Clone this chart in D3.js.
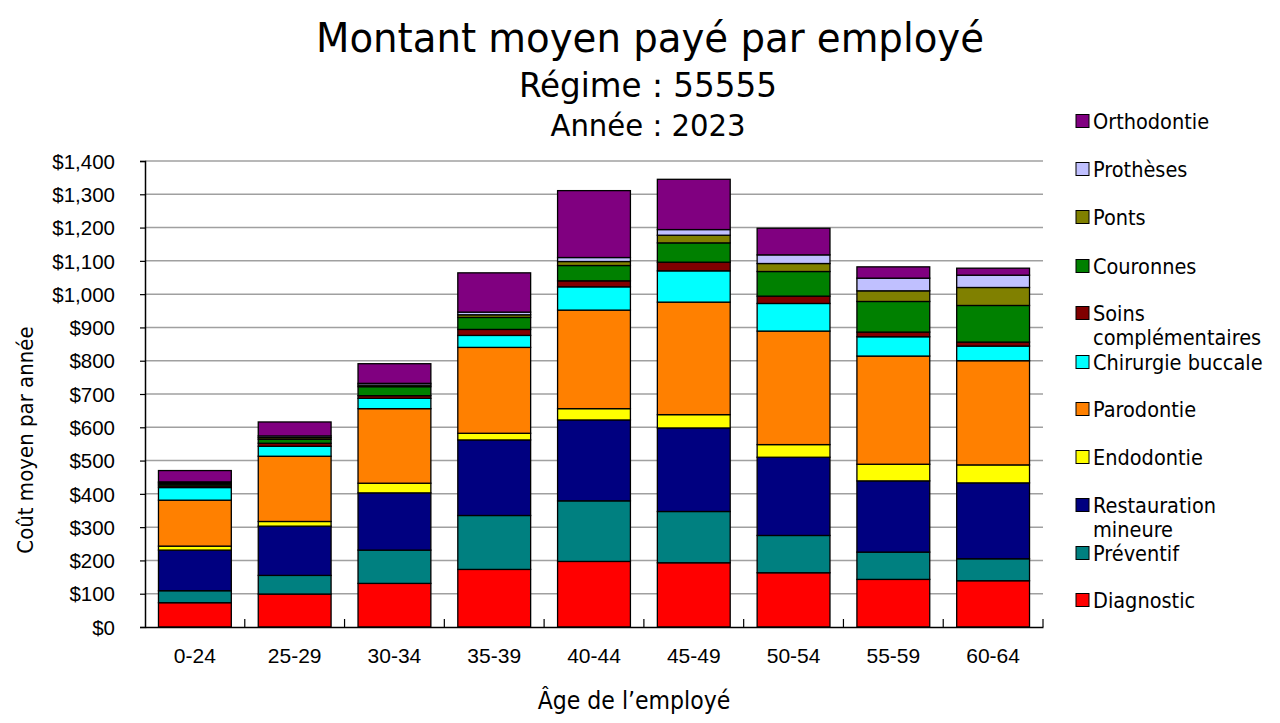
<!DOCTYPE html>
<html><head><meta charset="utf-8">
<script src="https://cdn.jsdelivr.net/npm/d3@7"></script>
<style>
html,body{margin:0;padding:0;background:#fff;}
svg{display:block;font-family:"DejaVu Sans Condensed","DejaVu Sans",sans-serif;}
</style></head>
<body>
<svg id="chart" width="1280" height="723"></svg>
<script>
const ages = ["0-24","25-29","30-34","35-39","40-44","45-49","50-54","55-59","60-64"];
const seriesNames = ["Diagnostic","Préventif","Restauration mineure","Endodontie","Parodontie","Chirurgie buccale","Soins complémentaires","Couronnes","Ponts","Prothèses","Orthodontie"];
const diagnostic   = [73, 99, 131, 173, 197, 193, 163, 143, 139];
const preventif    = [36, 56, 100, 162, 182, 154, 112, 82, 66];
const restauration = [122, 148, 172, 227, 243, 251, 235, 214, 228];
const endodontie   = [12, 14, 29, 20, 34, 40, 38, 50, 54];
const parodontie   = [138, 196, 224, 258, 296, 338, 341, 325, 313];
const chirurgie    = [38, 30, 31, 36, 70, 94, 83, 58, 44];
const soins        = [5, 9, 8, 18, 18, 26, 22, 14, 12];
const couronnes    = [5, 12, 27, 36, 46, 58, 74, 92, 110];
const ponts        = [4, 5, 5, 8, 12, 23, 24, 32, 54];
const protheses    = [3, 5, 5, 8, 12, 17, 26, 38, 37];
const orthodontie  = [34, 42, 59, 118, 201, 151, 80, 34, 21];
const yTicks = [0,100,200,300,400,500,600,700,800,900,1000,1100,1200,1300,1400];
const colors = ["#FF0000","#008080","#000080","#FFFF00","#FF8000","#00FFFF","#800000","#008000","#808000","#C0C0FF","#800080"];
const legendLines = [["Orthodontie"],["Prothèses"],["Ponts"],["Couronnes"],["Soins","complémentaires"],["Chirurgie buccale"],["Parodontie"],["Endodontie"],["Restauration","mineure"],["Préventif"],["Diagnostic"]];

const allSeries = [diagnostic,preventif,restauration,endodontie,parodontie,chirurgie,soins,couronnes,ponts,protheses,orthodontie];
const table = ages.map((a,i)=>{const o={age:a}; seriesNames.forEach((n,k)=>o[n]=allSeries[k][i]); return o;});

const svg = d3.select("#chart");
const L=145, R=1043, T=161, B=627;
const x = d3.scaleBand().domain(ages).range([L,R]).paddingInner(0.27).paddingOuter(0.135);
const y = d3.scaleLinear().domain([0,1400]).range([B,T]);
const color = d3.scaleOrdinal().domain(seriesNames).range(colors);

// gridlines
svg.append("g").selectAll("line").data(yTicks.filter(d=>d>0)).join("line")
  .attr("x1",L).attr("x2",R).attr("y1",d=>y(d)).attr("y2",d=>y(d))
  .attr("stroke","#a0a0a0").attr("stroke-width",1.5);

// bars
const stack = d3.stack().keys(seriesNames)(table);
svg.append("g").selectAll("g").data(stack).join("g")
  .attr("fill",d=>color(d.key))
  .selectAll("rect").data(d=>d).join("rect")
  .attr("x",d=>x(d.data.age)).attr("width",x.bandwidth())
  .attr("y",d=>y(d[1])).attr("height",d=>y(d[0])-y(d[1]))
  .attr("stroke","#000").attr("stroke-width",1.3);

// y axis
const yAxis = svg.append("g").attr("transform",`translate(${L},0)`)
  .call(d3.axisLeft(y).tickValues(yTicks).tickSize(5).tickPadding(25).tickFormat(d=>"$"+d3.format(",")(d)));
yAxis.select(".domain").attr("stroke","#000").attr("stroke-width",1.5);
yAxis.selectAll(".tick line").attr("stroke","#000").attr("stroke-width",1.2);
yAxis.selectAll("text").attr("font-size",20.5).attr("fill","#000").attr("font-family","inherit").attr("dy","0.35em");

// x axis
const xAxis = svg.append("g").attr("transform",`translate(0,${B})`)
  .call(d3.axisBottom(x).tickSize(0).tickPadding(21));
xAxis.select(".domain").attr("stroke","#000").attr("stroke-width",1.5);
xAxis.selectAll("text").attr("font-size",21).attr("fill","#000").attr("font-family","inherit");
// category separator ticks (inside)
svg.append("g").selectAll("line").data(d3.range(1,ages.length+1)).join("line")
  .attr("x1",i=>L+i*(R-L)/ages.length).attr("x2",i=>L+i*(R-L)/ages.length)
  .attr("y1",B).attr("y2",B-8).attr("stroke","#000").attr("stroke-width",1.2);

function fit(sel, w){
  const n = sel.node(); const cw = n.getComputedTextLength();
  if (Math.abs(cw-w)/w > 0.02) sel.attr("textLength",w).attr("lengthAdjust","spacingAndGlyphs");
}
// titles
fit(svg.append("text").attr("x",650).attr("y",52).attr("text-anchor","middle").attr("font-size",40).text("Montant moyen payé par employé"),668);
fit(svg.append("text").attr("x",648).attr("y",97).attr("text-anchor","middle").attr("font-size",33).text("Régime : 55555"),258);
fit(svg.append("text").attr("x",648).attr("y",136).attr("text-anchor","middle").attr("font-size",31).text("Année : 2023"),195);

// axis titles
svg.append("text").attr("transform","translate(33,440) rotate(-90)").attr("text-anchor","middle").attr("font-size",22).text("Coût moyen par année");
svg.append("text").attr("x",634).attr("y",709).attr("text-anchor","middle").attr("font-size",24.5).text("Âge de l’employé");

// legend
const legendY = [121,169,217,266,313,362,409,457,505,553,600];
const lg = svg.append("g");
legendLines.forEach((lines,i)=>{
  const name = seriesNames[seriesNames.length-1-i];
  lg.append("rect").attr("x",1076).attr("y",legendY[i]-6.5).attr("width",13).attr("height",13)
    .attr("fill",color(name)).attr("stroke","#000").attr("stroke-width",1);
  lines.forEach((t,j)=>{
    lg.append("text").attr("x",1093).attr("y",legendY[i]+j*24).attr("dy","0.35em").attr("font-size",21.5).text(t);
  });
});
</script>
</body></html>
